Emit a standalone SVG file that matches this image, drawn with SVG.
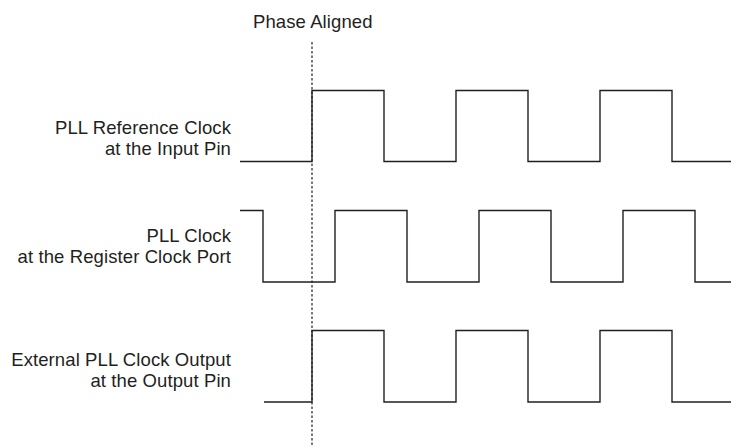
<svg xmlns="http://www.w3.org/2000/svg" width="732" height="446" viewBox="0 0 732 446">
<style>
text{font-family:"Liberation Sans",Arial,sans-serif;font-size:18.5px;letter-spacing:0.1px;fill:#231f20}
.lbl{text-anchor:end}
.wave{fill:none;stroke:#231f20;stroke-width:1.4;stroke-linejoin:miter}
.guide{fill:none;stroke:#231f20;stroke-width:1.2;stroke-dasharray:2.5 2}
</style>
<rect width="732" height="446" fill="#ffffff"/>
<g id="phase-aligned">
<text x="253" y="28">Phase Aligned</text>
<line class="guide" x1="312" y1="42" x2="312" y2="446"/>
</g>
<g id="ref-clock">
<text class="lbl" x="231" y="134">PLL Reference Clock</text>
<text class="lbl" x="231" y="155">at the Input Pin</text>
<path class="wave" d="M240,161.5 H312 V90.5 H384 V161.5 H456 V90.5 H528 V161.5 H600 V90.5 H672 V161.5 H731"/>
</g>
<g id="pll-clock">
<text class="lbl" x="231" y="242">PLL Clock</text>
<text class="lbl" x="231" y="263">at the Register Clock Port</text>
<path class="wave" d="M240,210.5 H263 V282 H335 V210.5 H407 V282 H479 V210.5 H551 V282 H623 V210.5 H695 V282 H731"/>
</g>
<g id="ext-clock">
<text class="lbl" x="231" y="366">External PLL Clock Output</text>
<text class="lbl" x="231" y="387">at the Output Pin</text>
<path class="wave" d="M264,402 H312 V330.5 H384 V402 H456 V330.5 H528 V402 H600 V330.5 H672 V402 H731"/>
</g>
<g id="connectors"></g>
</svg>
